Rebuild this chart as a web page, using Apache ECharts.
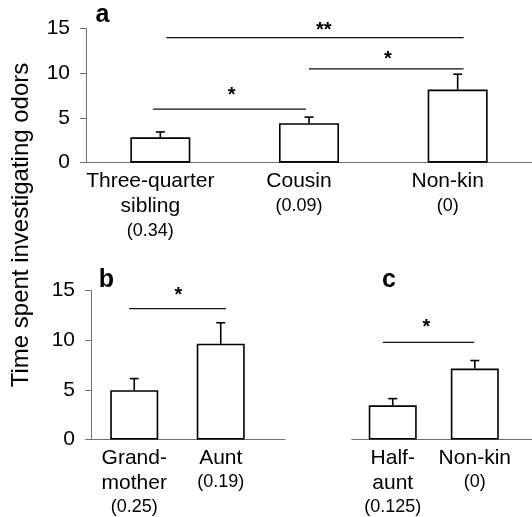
<!DOCTYPE html>
<html>
<head>
<meta charset="utf-8">
<script src="https://cdn.jsdelivr.net/npm/echarts@6/dist/echarts.min.js"></script>
<style>
  html, body { margin: 0; padding: 0; background: #fff; }
  #chart { width: 532px; height: 517px; }
</style>
</head>
<body>
<div id="chart"></div>
<script>
// panel a
const namesA = ['Three-quarter\nsibling', 'Cousin', 'Non-kin'];
const relA = ['(0.34)', '(0.09)', '(0)'];
const meanA = [2.84, 4.41, 8.18];
const upperA = [3.44, 5.1, 9.9];
// significance lines [from, to, y] and marks [x, y, text] in axis units
const sigLinesA = [[0.95, 1.98, 6.0], [2.0, 3.04, 10.5], [1.04, 3.04, 14.0]];
const sigMarksA = [[1.48, 8.05, '*'], [2.53, 12.05, '*'], [2.1, 15.4, '**']];

// panel b
const namesB = ['Grand-\nmother', 'Aunt'];
const relB = ['(0.25)', '(0.19)'];
const meanB = [4.97, 9.65];
const upperB = [6.14, 11.77];
const sigLinesB = [[0.94, 2.06, 13.2]];
const sigMarksB = [[1.51, 15.0, '*']];

// panel c
const namesC = ['Half-\naunt', 'Non-kin'];
const relC = ['(0.125)', '(0)'];
const meanC = [3.45, 7.15];
const upperC = [4.12, 7.96];
const sigLinesC = [[0.88, 1.99, 9.8]];
const sigMarksC = [[1.41, 11.8, '*']];

const yTicks = [0, 5, 10, 15];

const FONT = '"Liberation Sans", Arial, Helvetica, sans-serif';
const AXIS_GRAY = '#707070';

const chart = echarts.init(document.getElementById('chart'), null, { renderer: 'canvas' });

function xAxisFor(idx, names, rels, max, padRight) {
  return {
    type: 'value',
    gridIndex: idx,
    min: 0.5,
    max: max,
    axisLine: { show: true, onZero: false, lineStyle: { color: AXIS_GRAY, width: 1 } },
    axisTick: { show: false },
    splitLine: { show: false },
    axisLabel: {
      customValues: names.map((_, i) => i + 1),
      margin: 6,
      padding: [0, padRight, 0, 0],
      color: '#000',
      fontFamily: FONT,
      formatter: v => {
        const i = Math.round(v) - 1
        const lines = names[i].split('\n').map(s => '{n|' + s + '}')
        return lines.join('\n') + '\n{v|' + rels[i] + '}'
      },
      rich: {
        n: { fontSize: 21, lineHeight: 25, fontFamily: FONT, color: '#000' },
        v: { fontSize: 18, lineHeight: 24, fontFamily: FONT, color: '#000' }
      }
    }
  }
}

function yAxisFor(idx, show) {
  return {
    type: 'value',
    gridIndex: idx,
    show: show,
    min: 0,
    max: 15,
    interval: 5,
    axisLine: { show: true, lineStyle: { color: AXIS_GRAY, width: 1 } },
    axisTick: { show: true, length: 6, lineStyle: { color: AXIS_GRAY } },
    splitLine: { show: false },
    axisLabel: {
      customValues: yTicks,
      margin: 16,
      fontSize: 21,
      color: '#000',
      fontFamily: FONT
    }
  }
}

function barSeries(idx, means, width) {
  return {
    type: 'bar',
    xAxisIndex: idx,
    yAxisIndex: idx,
    barWidth: width,
    data: means.map((m, i) => [i + 1, m]),
    itemStyle: { color: '#fff', borderColor: '#000', borderWidth: 1.6 },
    emphasis: { disabled: true },
    silent: true
  }
}

function errorSeries(idx, means, uppers) {
  return {
    type: 'custom',
    xAxisIndex: idx,
    yAxisIndex: idx,
    silent: true,
    z: 5,
    data: means.map((m, i) => [i + 1, m, uppers[i]]),
    renderItem: (params, api) => {
      const x = api.value(0)
      const top = api.coord([x, api.value(1)])
      const cap = api.coord([x, api.value(2)])
      const st = { stroke: '#000', lineWidth: 1.6 }
      return {
        type: 'group',
        children: [
          { type: 'line', shape: { x1: top[0], y1: top[1], x2: cap[0], y2: cap[1] }, style: st },
          { type: 'line', shape: { x1: cap[0] - 4.5, y1: cap[1], x2: cap[0] + 4.5, y2: cap[1] }, style: st }
        ]
      }
    }
  }
}

function sigLineSeries(idx, lines) {
  return {
    type: 'custom',
    xAxisIndex: idx,
    yAxisIndex: idx,
    silent: true,
    data: lines,
    renderItem: (params, api) => {
      const a = api.coord([api.value(0), api.value(2)])
      const b = api.coord([api.value(1), api.value(2)])
      return {
        type: 'line',
        shape: { x1: a[0], y1: a[1], x2: b[0], y2: b[1] },
        style: { stroke: '#111', lineWidth: 1.3 }
      }
    }
  }
}

function sigMarkSeries(idx, marks) {
  return {
    type: 'custom',
    xAxisIndex: idx,
    yAxisIndex: idx,
    silent: true,
    data: marks,
    renderItem: (params, api) => {
      const p = api.coord([api.value(0), api.value(1)])
      return {
        type: 'text',
        x: p[0],
        y: p[1] + 5,
        style: {
          text: marks[params.dataIndex][2],
          fontSize: 20,
          fontWeight: 'bold',
          fontFamily: FONT,
          fill: '#000',
          align: 'center',
          verticalAlign: 'middle'
        }
      }
    }
  }
}

function panelLetter(txt, x, y) {
  return {
    type: 'text',
    x: x,
    y: y,
    style: {
      text: txt,
      fontSize: 25,
      fontWeight: 'bold',
      fontFamily: FONT,
      fill: '#000',
      align: 'center',
      verticalAlign: 'middle'
    }
  }
}

chart.setOption({
  animation: false,
  backgroundColor: '#fff',
  grid: [
    { left: 86, top: 28.6, width: 451.5, height: 134.1 },
    { left: 91, top: 290.7, width: 194, height: 148.8 },
    { left: 351.7, top: 290.7, width: 190, height: 148.8 }
  ],
  xAxis: [
    xAxisFor(0, namesA, relA, 3.5, 20),
    xAxisFor(1, namesB, relB, 2.743, 0),
    xAxisFor(2, namesC, relC, 2.697, 0)
  ],
  yAxis: [yAxisFor(0, true), yAxisFor(1, true), yAxisFor(2, false)],
  graphic: [
    {
      type: 'text',
      x: 21,
      y: 225,
      rotation: Math.PI / 2,
      style: {
        text: 'Time spent investigating odors',
        fontSize: 24,
        fontFamily: FONT,
        fill: '#000',
        align: 'center',
        verticalAlign: 'middle'
      }
    },
    panelLetter('a', 102.5, 14.7),
    panelLetter('b', 106.5, 280.3),
    panelLetter('c', 389, 280.3)
  ],
  series: [
    barSeries(0, meanA, 60),
    errorSeries(0, meanA, upperA),
    sigLineSeries(0, sigLinesA),
    sigMarkSeries(0, sigMarksA),
    barSeries(1, meanB, 48),
    errorSeries(1, meanB, upperB),
    sigLineSeries(1, sigLinesB),
    sigMarkSeries(1, sigMarksB),
    barSeries(2, meanC, 48),
    errorSeries(2, meanC, upperC),
    sigLineSeries(2, sigLinesC),
    sigMarkSeries(2, sigMarksC)
  ]
})
</script>
</body>
</html>
